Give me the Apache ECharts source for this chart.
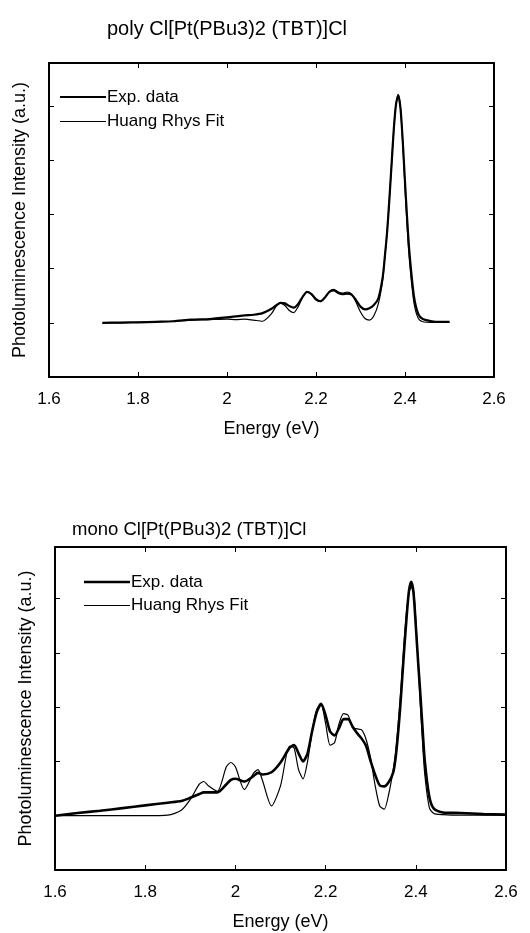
<!DOCTYPE html>
<html>
<head>
<meta charset="utf-8">
<script src="https://cdn.jsdelivr.net/npm/echarts@6/dist/echarts.min.js"></script>
<style>
html,body{margin:0;padding:0;background:#fff;}
#c{width:530px;height:933px;}
</style>
</head>
<body>
<div id="c"></div>
<script>
// ---- Top panel: poly ----
const polyTitle = 'poly Cl[Pt(PBu3)2 (TBT)]Cl';
const polyEnergy = [1.72,1.76,1.80,1.84,1.88,1.92,1.96,2.00,2.02,2.04,2.06,2.08,2.10,2.11,2.12,2.13,2.14,2.15,2.16,2.17,2.18,2.19,2.20,2.21,2.22,2.23,2.24,2.25,2.26,2.27,2.28,2.29,2.30,2.31,2.32,2.33,2.34,2.35,2.355,2.36,2.365,2.37,2.375,2.38,2.385,2.39,2.395,2.40,2.405,2.41,2.42,2.43,2.44,2.46,2.48,2.50];
const polyExp = [0.00,0.005,0.01,0.02,0.03,0.06,0.07,0.10,0.12,0.14,0.15,0.18,0.26,0.32,0.37,0.36,0.31,0.28,0.35,0.48,0.57,0.53,0.44,0.40,0.47,0.57,0.60,0.55,0.53,0.54,0.52,0.42,0.30,0.25,0.27,0.33,0.45,0.85,1.25,1.70,2.30,2.95,3.60,4.05,4.20,3.95,3.35,2.60,1.90,1.30,0.50,0.16,0.07,0.03,0.02,0.02];
const polyFit = [0.00,0.00,0.01,0.02,0.03,0.05,0.06,0.07,0.06,0.07,0.05,0.03,0.17,0.30,0.37,0.32,0.23,0.19,0.30,0.48,0.58,0.52,0.42,0.39,0.46,0.58,0.62,0.57,0.55,0.57,0.53,0.38,0.20,0.08,0.05,0.13,0.35,0.80,1.25,1.70,2.30,2.95,3.60,4.05,4.22,3.97,3.30,2.50,1.75,1.15,0.38,0.08,0.02,0.01,0.01,0.01];

// ---- Bottom panel: mono ----
const monoTitle = 'mono Cl[Pt(PBu3)2 (TBT)]Cl';
const monoEnergy = [1.60,1.65,1.70,1.75,1.80,1.85,1.88,1.90,1.92,1.93,1.94,1.96,1.98,1.99,2.00,2.02,2.04,2.05,2.06,2.08,2.10,2.12,2.13,2.14,2.15,2.16,2.17,2.18,2.19,2.20,2.21,2.22,2.23,2.24,2.25,2.26,2.27,2.28,2.29,2.30,2.31,2.32,2.33,2.34,2.35,2.355,2.36,2.365,2.37,2.375,2.38,2.385,2.39,2.395,2.40,2.405,2.41,2.415,2.42,2.43,2.44,2.46,2.50,2.55,2.60];
const monoExp = [0.00,0.05,0.09,0.14,0.19,0.24,0.27,0.33,0.40,0.43,0.43,0.43,0.58,0.66,0.68,0.63,0.73,0.79,0.76,0.80,0.98,1.25,1.30,1.15,1.00,1.15,1.55,1.90,2.06,1.85,1.55,1.48,1.62,1.78,1.78,1.64,1.52,1.42,1.28,1.00,0.75,0.56,0.54,0.62,0.80,1.05,1.45,1.95,2.55,3.15,3.70,4.15,4.31,4.10,3.50,2.85,2.25,1.60,1.00,0.35,0.13,0.06,0.05,0.03,0.02];
const monoFit = [0.00,0.00,0.00,0.00,0.00,0.01,0.10,0.30,0.58,0.63,0.55,0.45,0.90,0.98,0.90,0.48,0.78,0.85,0.65,0.18,0.55,1.28,1.25,0.85,0.68,1.00,1.55,1.95,2.04,1.70,1.30,1.35,1.70,1.88,1.85,1.62,1.60,1.58,1.40,1.05,0.55,0.18,0.12,0.40,0.85,1.15,1.60,2.10,2.70,3.30,3.80,4.10,4.20,4.15,3.60,2.85,2.05,1.35,0.75,0.15,0.04,0.02,0.01,0.01,0.01];

const xTicks = ['1.6','1.8','2','2.2','2.4','2.6'];
const expName = 'Exp. data';
const fitName = 'Huang Rhys Fit';
const xAxisName = 'Energy (eV)';
const yAxisName = 'Photoluminescence Intensity (a.u.)';

const FONT = '"Liberation Sans", Arial, Helvetica, sans-serif';
const pair = (xs, ys) => xs.map((x, i) => [x, ys[i]]);

function xAx(gi, pos, showLabel) {
  return {
    type: 'value', gridIndex: gi, position: pos, min: 1.6, max: 2.6, interval: 0.2,
    name: showLabel ? xAxisName : '', nameLocation: 'middle', nameGap: 43,
    nameTextStyle: {fontFamily: FONT, fontSize: 18, color: '#000'},
    axisLine: {show: true, onZero: false, lineStyle: {color: '#000', width: 2}},
    axisTick: {show: true, inside: true, length: 5, lineStyle: {color: '#000', width: 1}},
    axisLabel: {show: showLabel, margin: 14, fontFamily: FONT, fontSize: 17, color: '#000',
      formatter: v => { const s = xTicks.find(t => Math.abs(parseFloat(t) - v) < 1e-6); return s || ''; }},
    splitLine: {show: false}
  };
}
function yAx(gi, pos, max, showName) {
  return {
    type: 'value', gridIndex: gi, position: pos, min: -1, max: max, interval: 1,
    name: showName ? yAxisName : '', nameLocation: 'middle', nameGap: 20,
    nameTextStyle: {fontFamily: FONT, fontSize: 18, color: '#000'},
    axisLine: {show: true, onZero: false, lineStyle: {color: '#000', width: 2}},
    axisTick: {show: true, inside: true, length: 5, lineStyle: {color: '#000', width: 1}},
    axisLabel: {show: false},
    splitLine: {show: false}
  };
}
function leg(name, left, top, h) {
  return {data: [name], left: left, top: top, padding: 0, itemWidth: 46, itemHeight: h,
    icon: 'rect', selectedMode: false, itemStyle: {color: '#000', borderWidth: 0},
    textStyle: {fontFamily: FONT, fontSize: 17, lineHeight: 18, color: '#000', padding: [0,0,0,-4]}};
}

const chart = echarts.init(document.getElementById('c'), null, {renderer: 'canvas'});
chart.setOption({
  backgroundColor: '#fff',
  animation: false,
  color: ['#000'],
  title: [
    {text: polyTitle, left: 102, top: 14, textStyle: {fontFamily: FONT, fontSize: 20, fontWeight: 'normal', color: '#000'}},
    {text: monoTitle, left: 67, top: 515, textStyle: {fontFamily: FONT, fontSize: 18.5, fontWeight: 'normal', color: '#000'}}
  ],
  grid: [
    {left: 49, top: 63, width: 445, height: 314},
    {left: 55, top: 547, width: 451, height: 323}
  ],
  xAxis: [xAx(0, 'bottom', true), xAx(0, 'top', false), xAx(1, 'bottom', true), xAx(1, 'top', false)],
  yAxis: [yAx(0, 'left', 4.8, true), yAx(0, 'right', 4.8, false), yAx(1, 'left', 4.95, true), yAx(1, 'right', 4.95, false)],
  legend: [
    leg(expName, 60, 88, 2),
    leg(fitName, 60, 112.5, 1),
    leg(expName, 84, 573, 2.5),
    leg(fitName, 84, 596.5, 1)
  ],
  series: [
    {name: fitName, type: 'line', xAxisIndex: 0, yAxisIndex: 0, data: pair(polyEnergy, polyFit),
     showSymbol: false, symbol: 'none', smooth: 0.25, itemStyle: {color: '#000'}, lineStyle: {color: '#000', width: 1.2}, z: 2},
    {name: expName, type: 'line', xAxisIndex: 0, yAxisIndex: 0, data: pair(polyEnergy, polyExp),
     showSymbol: false, symbol: 'none', smooth: 0.25, itemStyle: {color: '#000'}, lineStyle: {color: '#000', width: 2.2}, z: 3},
    {name: fitName, type: 'line', xAxisIndex: 2, yAxisIndex: 2, data: pair(monoEnergy, monoFit),
     showSymbol: false, symbol: 'none', smooth: 0.25, itemStyle: {color: '#000'}, lineStyle: {color: '#000', width: 1.2}, z: 2},
    {name: expName, type: 'line', xAxisIndex: 2, yAxisIndex: 2, data: pair(monoEnergy, monoExp),
     showSymbol: false, symbol: 'none', smooth: 0.25, itemStyle: {color: '#000'}, lineStyle: {color: '#000', width: 2.6}, z: 3}
  ]
});
</script>
</body>
</html>
